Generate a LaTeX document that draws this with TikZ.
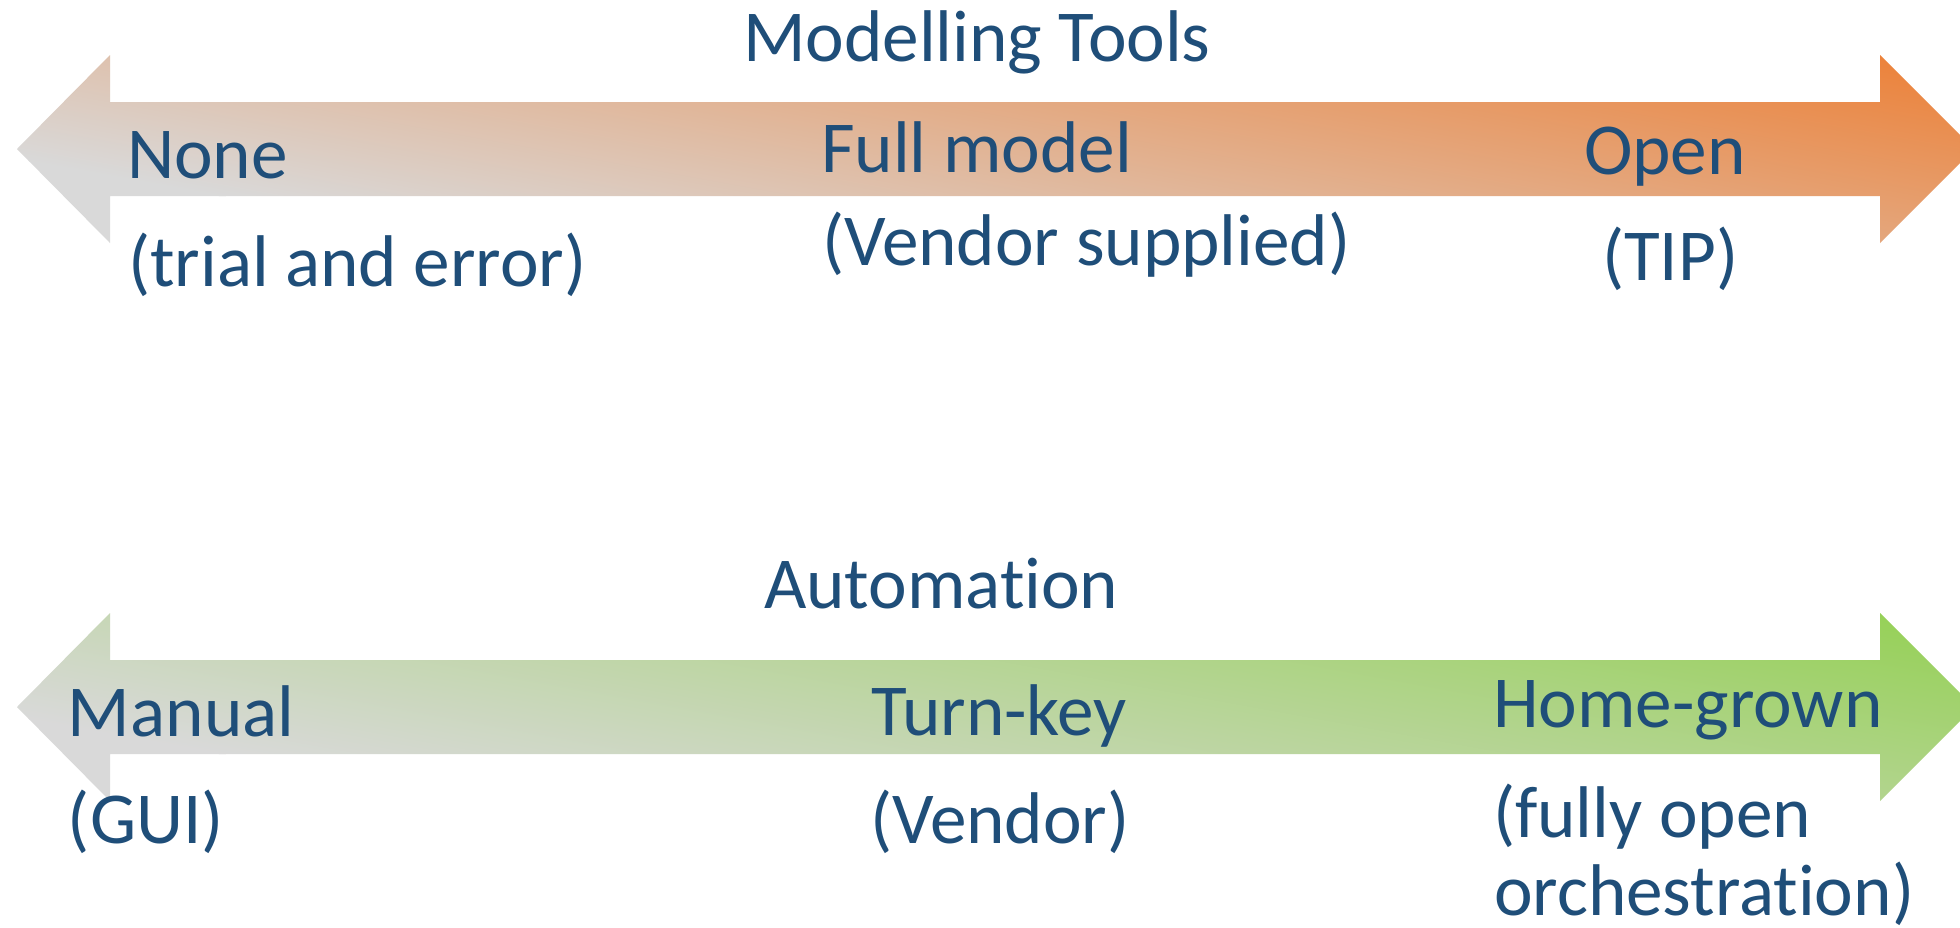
\documentclass[tikz,border=0pt]{standalone}
\usepackage{fontspec}
\setmainfont[Ligatures={NoCommon,NoContextual}]{Carlito}

\definecolor{txtblue}{HTML}{1F4E79}
\definecolor{fadegray}{HTML}{D9D9D9}
\definecolor{hotorange}{HTML}{ED7D31}
\definecolor{freshgreen}{HTML}{92D050}

% keep "t" and "i" as two separate glyphs
\newcommand{\tiapart}{t\kern0pt i}

\tikzset{
  % double-headed block arrow centred on the horizontal line y=#1
  dblarrow/.style={insert path={
    (17,#1) -- (110,{#1+94}) -- (110,{#1+47}) -- (1880,{#1+47}) -- (1880,{#1+94})
    -- (1974,#1) -- (1880,{#1-94}) -- (1880,{#1-47}) -- (110,{#1-47})
    -- (110,{#1-94}) -- cycle}},
  lbl/.style={anchor=base west, inner sep=0pt, outer sep=0pt, text=txtblue,
    font=\fontsize{36.6pt}{40pt}\selectfont},
}

% diagonal gray-to-colour fill of one arrow, centred at height #1, ending in colour #2
\newcommand{\gradarrow}[2]{%
  \begin{scope}
    \path[clip, dblarrow=#1];
    \begin{scope}[transform canvas={shift={(995,#1)}, rotate=79.7}]
      \fill[fadegray] (-2600,-2600) rectangle (-184,2600);
      \shade[left color=fadegray, right color=#2] (-185,-2600) rectangle (277,2600);
      \fill[#2] (276,-2600) rectangle (2600,2600);
    \end{scope}
  \end{scope}}

\begin{document}
\begin{tikzpicture}[x=0.5pt, y=0.5pt]
  \useasboundingbox (0,0) rectangle (1960,-927);
  \clip (0,0) rectangle (1960,-927);
  \fill[white] (0,0) rectangle (1960,-927);

  % Modelling tools scale
  \gradarrow{-149}{hotorange}
  \node[lbl] (title1) at (743,-61) {Modelling Tools};
  \node[lbl] (none) at (127,-178) {None};
  \node[lbl] (trial) at (128,-286) {(trial and error)};
  \node[lbl] (fullmodel) at (821,-172) {Full model};
  \node[lbl] (vendsup) at (822,-265) {(Vendor supplied)};
  \node[lbl] (open) at (1584,-174) {Open};
  \node[lbl] (tip) at (1602,-280) {(TIP)};

  % Automation scale
  \gradarrow{-707}{freshgreen}
  \node[lbl] (title2) at (764,-608) {Automa\tiapart on};
  \node[lbl] (manual) at (68,-736) {Manual};
  \node[lbl] (gui) at (68,-843) {(GUI)};
  \node[lbl] (turnkey) at (871,-735) {Turn-key};
  \node[lbl] (vendor) at (870,-843) {(Vendor)};
  \node[lbl] (homegrown) at (1493,-727) {Home-grown};
  \node[lbl] (fullyopen) at (1493,-837) {(fully open};
  \node[lbl] (orchestr) at (1494,-915) {orchestra\tiapart on)};
\end{tikzpicture}
\end{document}
